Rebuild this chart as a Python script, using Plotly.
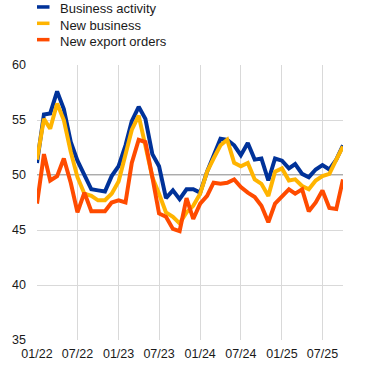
import pandas as pd
import plotly.graph_objects as go

# ---- data ----
months = pd.date_range("2022-01-01", "2025-10-01", freq="MS")

business_activity = [51.1, 55.5, 55.6, 57.6, 56.0, 53.0, 51.3, 49.9, 48.7, 48.6, 48.5, 49.9,
                     50.8, 52.7, 54.9, 56.2, 55.1, 51.9, 50.8, 47.9, 48.6, 47.8, 48.7, 48.7,
                     48.4, 50.3, 51.7, 53.3, 53.2, 52.7, 51.8, 52.9, 51.4, 51.5, 49.5, 51.5,
                     51.3, 50.6, 51.0, 50.1, 49.8, 50.5, 50.9, 50.5, 51.4, 52.7]
new_business = [51.4, 55.1, 54.2, 56.5, 55.0, 52.1, 49.8, 48.3, 48.1, 47.7, 47.7, 48.3,
                49.4, 51.8, 54.1, 55.4, 52.7, 49.8, 48.3, 46.6, 46.2, 45.6, 46.6, 47.2,
                48.3, 50.3, 51.5, 52.7, 53.2, 51.1, 50.8, 51.1, 49.6, 49.2, 48.1, 50.3,
                50.6, 49.5, 49.6, 49.0, 48.7, 49.5, 49.9, 50.1, 51.4, 52.6]
new_export_orders = [47.4, 51.9, 49.5, 49.9, 51.5, 49.3, 46.6, 48.4, 46.7, 46.7, 46.7, 47.5,
                     47.7, 47.5, 51.1, 53.2, 53.0, 49.8, 46.5, 46.2, 45.1, 44.9, 47.9, 46.0,
                     47.4, 48.1, 49.3, 49.2, 49.3, 49.6, 48.9, 48.4, 48.0, 47.2, 45.7, 47.4,
                     48.1, 48.7, 48.3, 48.7, 46.7, 47.5, 48.6, 47.0, 46.9, 49.6]

series_names = ["Business activity", "New business", "New export orders"]
series_values = [business_activity, new_business, new_export_orders]
colors = ["#003299", "#FFB400", "#FF4B00"]

tick_dates = ["2022-01-01", "2022-07-01", "2023-01-01", "2023-07-01",
              "2024-01-01", "2024-07-01", "2025-01-01", "2025-07-01"]
tick_labels = ["01/22", "07/22", "01/23", "07/23", "01/24", "07/24", "01/25", "07/25"]
y_ticks = [35, 40, 45, 50, 55, 60]

# ---- layout geometry (pixels) ----
W, H = 372, 373
L, R, T, B = 37, 29, 65, 27
plot_h = H - T - B
plot_w = W - L - R
FONT = "Liberation Sans, Arial"
TXT = "#1a1a1a"


def py(p):  # pixel y from top -> paper y
    return (H - B - p) / plot_h


def px(p):  # pixel x from left -> paper x
    return (p - L) / plot_w


fig = go.Figure()

# reference line at 50
fig.add_shape(type="line", xref="paper", x0=0, x1=1, yref="y", y0=50, y1=50,
              line=dict(color="#595959", width=1), layer="below")

for name, vals, c in zip(series_names, series_values, colors):
    fig.add_trace(go.Scatter(x=months, y=vals, mode="lines", name=name,
                             line=dict(color=c, width=4), showlegend=False))

# custom legend
for i, (name, c) in enumerate(zip(series_names, colors)):
    yc = 5.7 + 16.7 * i
    fig.add_shape(type="rect", xref="paper", yref="paper",
                  x0=px(37), x1=px(49.5), y0=py(yc + 1.8), y1=py(yc - 1.8),
                  fillcolor=c, line=dict(width=0))
    fig.add_annotation(xref="paper", yref="paper", x=px(57.5), y=py(yc + 2),
                       text=name, showarrow=False, xanchor="left", yanchor="middle",
                       font=dict(family=FONT, size=13, color=TXT))

fig.update_layout(
    width=W, height=H,
    margin=dict(l=L, r=R, t=T, b=B),
    paper_bgcolor="white", plot_bgcolor="white",
    font=dict(family=FONT, size=12.5, color=TXT),
    xaxis=dict(range=[months[0], months[-1]], tickvals=tick_dates, ticktext=tick_labels,
               showgrid=True, gridcolor="#d9d9d9", gridwidth=1,
               showline=False, zeroline=False, ticks="", ticklabelstandoff=4,
               tickfont=dict(size=12.5)),
    yaxis=dict(range=[35, 60], tickvals=y_ticks, showgrid=True, gridcolor="#d9d9d9",
               gridwidth=1, showline=False, zeroline=False, ticks="",
               ticklabelstandoff=10, tickfont=dict(size=12.5)),
)

fig.write_html("out.html")
